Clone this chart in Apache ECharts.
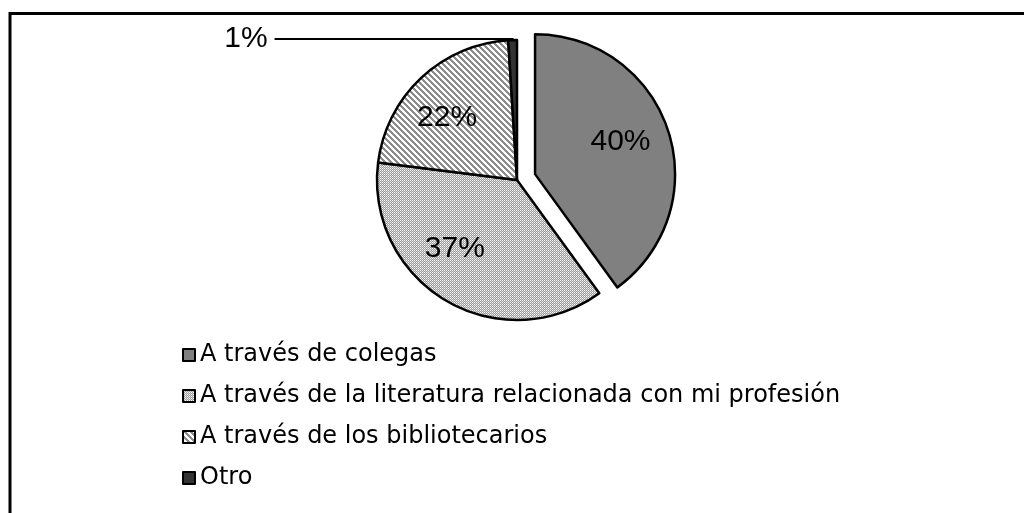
<!DOCTYPE html>
<html>
<head>
<meta charset="utf-8">
<script src="https://cdn.jsdelivr.net/npm/echarts@6/dist/echarts.min.js"></script>
<style>
  html, body { margin: 0; padding: 0; background: #fff; }
  #chart { width: 1024px; height: 513px; }
</style>
</head>
<body>
<div id="chart"></div>
<script>
const categories = [
  'A través de colegas',
  'A través de la literatura relacionada con mi profesión',
  'A través de los bibliotecarios',
  'Otro'
]
const values = [40, 37, 22, 1]

// small tiled canvases for the hatched fills
const makePattern = (size, draw) => {
  const c = document.createElement('canvas')
  c.width = size
  c.height = size
  const ctx = c.getContext('2d')
  ctx.fillStyle = '#fff'
  ctx.fillRect(0, 0, size, size)
  draw(ctx)
  return { image: c, repeat: 'repeat' }
}

// light lattice (gray cells, white grid)
const lattice = makePattern(4, ctx => {
  for (let x = 0; x < 4; x++) {
    for (let y = 0; y < 4; y++) {
      if ((x + y) % 2 === 1) {
        ctx.fillStyle = '#9a9a9a'
        ctx.fillRect(x, y, 1, 1)
      } else if (x % 2 === 1) {
        ctx.fillStyle = '#d4d4d4'
        ctx.fillRect(x, y, 1, 1)
      }
    }
  }
})

// diagonal stripes
const stripes = makePattern(6, ctx => {
  ctx.fillStyle = '#8c8c8c'
  for (let x = 0; x < 6; x++) {
    for (let y = 0; y < 6; y++) {
      if ((x - y + 12) % 6 < 3) ctx.fillRect(x, y, 1, 1)
    }
  }
})

const fills = ['#808080', lattice, stripes, '#333333']

const chart = echarts.init(document.getElementById('chart'))

const labelOffsets = [[16, -10], [-25, 6], [-20, -9], [0, 0]]

const data = categories.map((name, i) => {
  const item = {
    name: name,
    value: values[i],
    itemStyle: { color: fills[i] },
    label: { offset: labelOffsets[i] },
    select: { label: { offset: labelOffsets[i] } }
  }
  if (i === 0) item.selected = true
  if (i === 3) {
    item.label = { position: 'outside', distanceToLabelLine: 7 }
    item.labelLine = { show: true, length: 1, length2: 238, lineStyle: { color: '#000', width: 2 } }
  }
  return item
})

chart.setOption({
  backgroundColor: '#fff',
  animation: false,
  graphic: [
    {
      type: 'rect',
      shape: { x: 10, y: 13.5, width: 1100, height: 600 },
      style: { fill: 'none', stroke: '#000', lineWidth: 3 },
      silent: true
    }
  ],
  legend: {
    orient: 'vertical',
    left: 182,
    top: 343,
    padding: 0,
    itemWidth: 12,
    itemHeight: 12,
    itemGap: 17,
    icon: 'rect',
    selectedMode: false,
    itemStyle: { borderColor: '#000', borderWidth: 2 },
    textStyle: {
      fontFamily: 'DejaVu Sans',
      fontSize: 24,
      color: '#000'
    },
    data: categories
  },
  series: [
    {
      type: 'pie',
      center: [517, 180],
      radius: [0, 140],
      startAngle: 90,
      clockwise: true,
      selectedMode: 'single',
      selectedOffset: 19,
      avoidLabelOverlap: false,
      itemStyle: { borderColor: '#000', borderWidth: 2.5 },
      select: { itemStyle: { borderColor: '#000', borderWidth: 2.5 } },
      emphasis: { disabled: true },
      label: {
        show: true,
        position: 'inside',
        formatter: '{d}%',
        fontFamily: 'Liberation Sans',
        fontSize: 30,
        color: '#000'
      },
      labelLine: { show: false },
      data: data
    }
  ]
})
</script>
</body>
</html>
